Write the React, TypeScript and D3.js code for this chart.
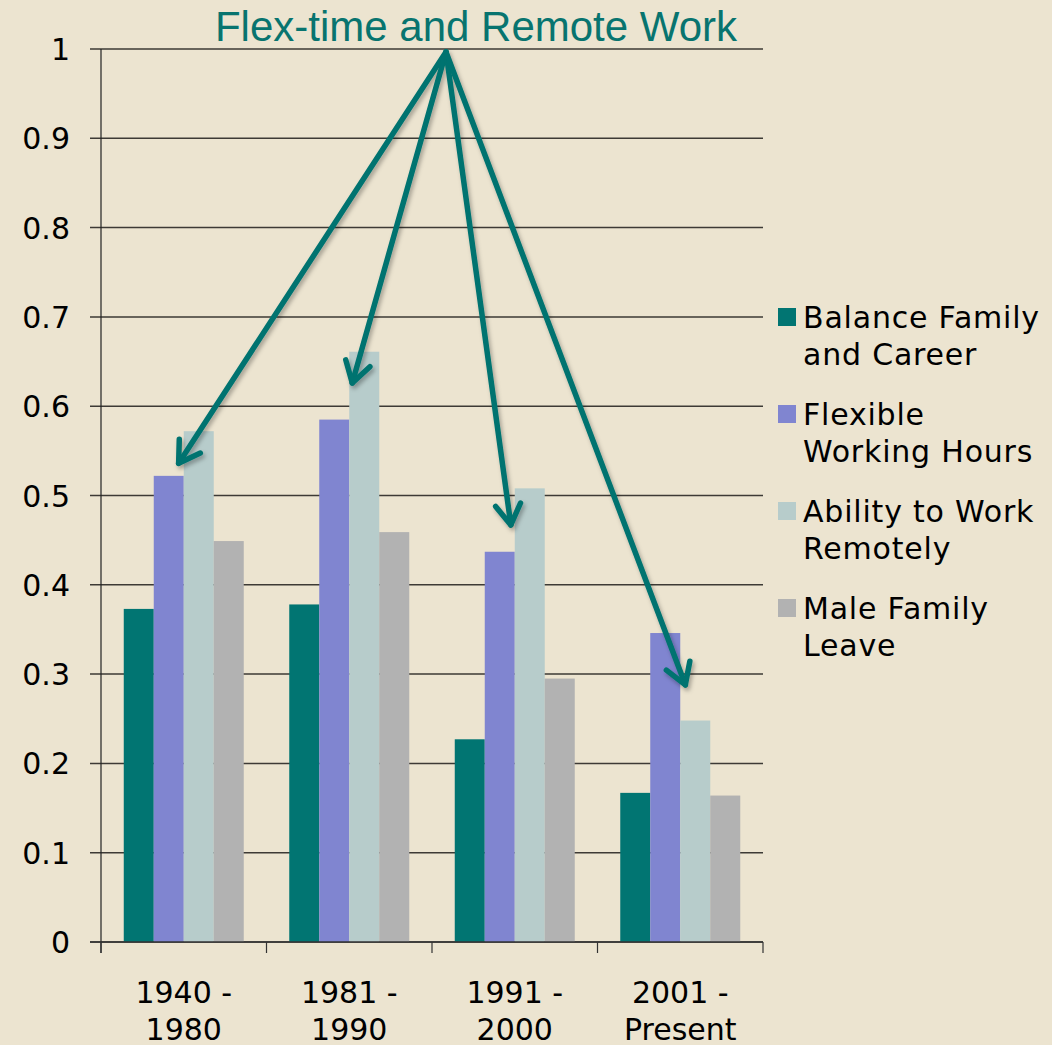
import React from "react";
import * as d3 from "d3";

// periods (two-line tick labels)
const periods = ["1940 - 1980", "1981 - 1990", "1991 - 2000", "2001 - Present"];
const periodLines = [
  ["1940 -", "1980"],
  ["1981 -", "1990"],
  ["1991 -", "2000"],
  ["2001 -", "Present"],
];

const seriesNames = [
  "Balance Family and Career",
  "Flexible Working Hours",
  "Ability to Work Remotely",
  "Male Family Leave",
];
const legendLines = [
  ["Balance Family", "and Career"],
  ["Flexible", "Working Hours"],
  ["Ability to Work", "Remotely"],
  ["Male Family", "Leave"],
];
const seriesColors = ["#017572", "#8085d0", "#b7cccb", "#b2b2b2"];

const balanceFamily = [0.373, 0.378, 0.227, 0.167];
const flexibleHours = [0.522, 0.585, 0.437, 0.346];
const remoteWork = [0.572, 0.661, 0.508, 0.248];
const maleLeave = [0.449, 0.459, 0.295, 0.164];
const seriesValues = [balanceFamily, flexibleHours, remoteWork, maleLeave];

const yTicks = [0, 0.1, 0.2, 0.3, 0.4, 0.5, 0.6, 0.7, 0.8, 0.9, 1];

// arrow tips: which bar they sit next to, where along it (fraction of bar width) and at what value
const arrowTips = [
  { period: 0, series: 1, frac: 0.83, value: 0.536 },
  { period: 1, series: 2, frac: 0.1, value: 0.626 },
  { period: 2, series: 1, frac: 0.87, value: 0.467 },
  { period: 3, series: 1, frac: 1.17, value: 0.288 },
];

const W = 1052;
const H = 1045;
const margin = { top: 49, right: 289, bottom: 103, left: 101 };

export default function App() {
  const innerW = W - margin.left - margin.right;
  const innerH = H - margin.top - margin.bottom;

  const x0 = d3
    .scaleBand<string>()
    .domain(periods)
    .range([0, innerW])
    .paddingInner(0.275)
    .paddingOuter(0.1375);
  const x1 = d3
    .scaleBand<string>()
    .domain(seriesNames)
    .range([0, x0.bandwidth()]);
  const y = d3.scaleLinear().domain([0, 1]).range([innerH, 0]);

  const step = x0.step();
  const boundaries = d3.range(periods.length + 1).map((i) => i * step);

  const origin = { x: 446 - margin.left, y: 3 };

  return (
    <svg
      width={W}
      height={H}
      style={{ position: "absolute", left: 0, top: 0 }}
      fontFamily="'DejaVu Sans', Verdana, sans-serif"
    >
      <defs>
        <filter id="shadow" x="-20%" y="-20%" width="140%" height="140%">
          <feDropShadow dx="2" dy="3" stdDeviation="2" floodColor="#000" floodOpacity="0.3" />
        </filter>
      </defs>
      <rect width={W} height={H} fill="#ece4d0" />

      <g transform={`translate(${margin.left},${margin.top})`}>
        {/* gridlines */}
        {yTicks.map((t) => (
          <line
            key={t}
            x1={-11}
            x2={innerW}
            y1={y(t)}
            y2={y(t)}
            stroke="#3d3a35"
            strokeWidth={1.5}
          />
        ))}
        {/* y labels */}
        {yTicks.map((t) => (
          <text key={"l" + t} x={-31} y={y(t) + 11} textAnchor="end" fontSize={30} fill="#000">
            {d3.format("~g")(t)}
          </text>
        ))}

        {/* bars */}
        {periods.map((p, pi) => (
          <g key={p} transform={`translate(${x0(p)},0)`}>
            {seriesNames.map((s, si) => (
              <rect
                key={s}
                x={x1(s)}
                y={y(seriesValues[si][pi])}
                width={x1.bandwidth()}
                height={innerH - y(seriesValues[si][pi])}
                fill={seriesColors[si]}
              />
            ))}
          </g>
        ))}

        {/* axes */}
        <line x1={0} x2={0} y1={0} y2={innerH + 11} stroke="#222" strokeWidth={1.2} />
        <line x1={-11} x2={innerW} y1={innerH} y2={innerH} stroke="#333" strokeWidth={1.5} />
        {boundaries.map((b, i) => (
          <line key={i} x1={b} x2={b} y1={innerH} y2={innerH + 11} stroke="#333" strokeWidth={1.2} />
        ))}
        {periods.map((p, pi) => (
          <text
            key={"x" + p}
            x={(x0(p) ?? 0) + x0.bandwidth() / 2}
            y={innerH + 61}
            textAnchor="middle"
            fontSize={30}
            fill="#000"
          >
            <tspan x={(x0(p) ?? 0) + x0.bandwidth() / 2}>{periodLines[pi][0]}</tspan>
            <tspan x={(x0(p) ?? 0) + x0.bandwidth() / 2} dy={37}>
              {periodLines[pi][1]}
            </tspan>
          </text>
        ))}

        {/* arrows */}
        <g filter="url(#shadow)" stroke="#04736f" strokeWidth={5.5} fill="none" strokeLinecap="round" strokeLinejoin="round">
          {arrowTips.map((a, i) => {
            const p = periods[a.period];
            const s = seriesNames[a.series];
            const tx = (x0(p) ?? 0) + (x1(s) ?? 0) + x1.bandwidth() * a.frac;
            const ty = y(a.value);
            const ang = Math.atan2(ty - origin.y, tx - origin.x);
            const len = 24;
            const spread = 0.55;
            const hx1 = tx - len * Math.cos(ang - spread);
            const hy1 = ty - len * Math.sin(ang - spread);
            const hx2 = tx - len * Math.cos(ang + spread);
            const hy2 = ty - len * Math.sin(ang + spread);
            return (
              <g key={i}>
                <line x1={origin.x} y1={origin.y} x2={tx} y2={ty} />
                <path d={`M${hx1},${hy1}L${tx},${ty}L${hx2},${hy2}`} />
              </g>
            );
          })}
        </g>
      </g>

      {/* title */}
      <text
        x={476}
        y={41}
        textAnchor="middle"
        fontFamily="'Liberation Sans', Arial, sans-serif"
        fontSize={42}
        fill="#08746f"
      >
        Flex-time and Remote Work
      </text>

      {/* legend */}
      {legendLines.map((lines, i) => {
        const base = 328 + i * 97;
        return (
          <g key={i}>
            <rect x={778} y={base - 20} width={18} height={18} fill={seriesColors[i]} />
            <text x={803} y={base} fontSize={30} fill="#000" letterSpacing={0.8}>
              <tspan x={803}>{lines[0]}</tspan>
              <tspan x={803} dy={37}>
                {lines[1]}
              </tspan>
            </text>
          </g>
        );
      })}
    </svg>
  );
}
